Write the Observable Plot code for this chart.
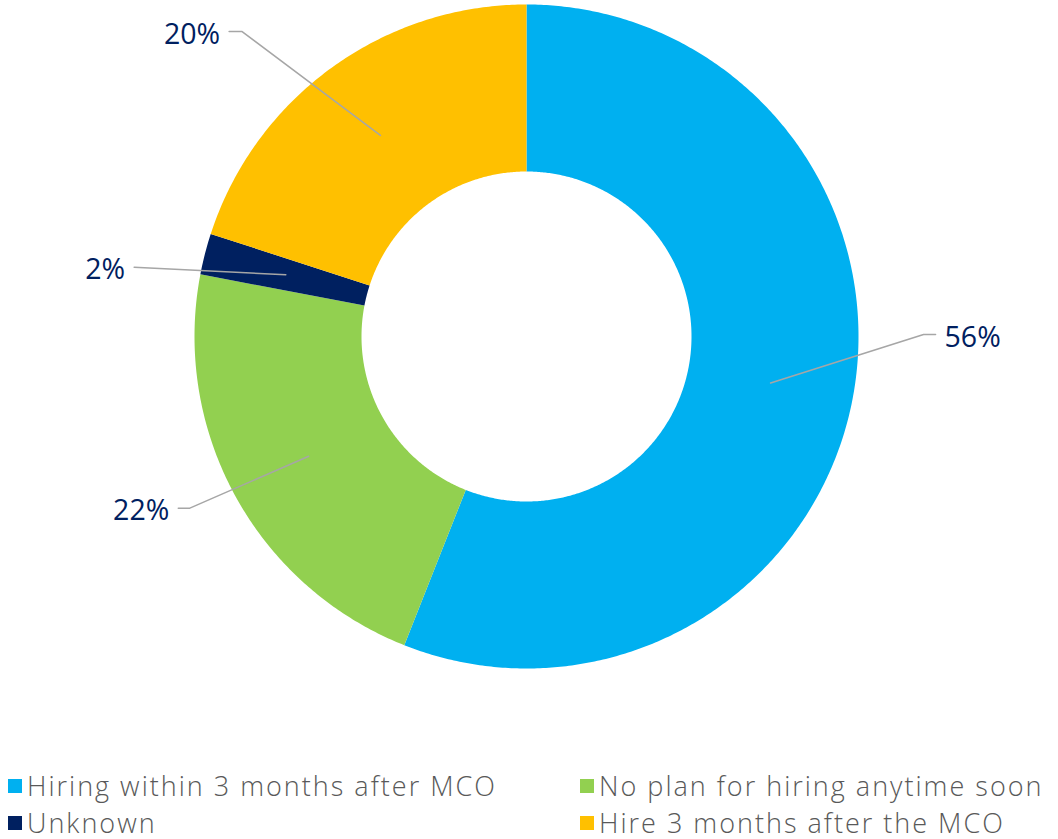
<!DOCTYPE html>
<html>
<head>
<meta charset="utf-8">
<script src="https://cdn.jsdelivr.net/npm/d3@7"></script>
<script src="https://cdn.jsdelivr.net/npm/@observablehq/plot@0.6"></script>
<style>
  body { margin: 0; background: #fff; font-family: "Open Sans", "Noto Sans", sans-serif; overflow: hidden; }
  #legend { display: grid; grid-template-columns: 572px auto; padding: 7px 0 0 8px; }
  .item { display: flex; align-items: center; height: 37px; font-size: 27px; line-height: 30px; color: #595959; font-weight: 300; white-space: nowrap; letter-spacing: 2px; }
  .sw { width: 14px; height: 14px; margin-right: 5px; flex: none; }
</style>
</head>
<body>
<div id="chart"></div>
<div id="legend"></div>
<script>
// ---- data ----
const categories = [
  "Hiring within 3 months after MCO",
  "No plan for hiring anytime soon",
  "Unknown",
  "Hire 3 months after the MCO"
];
const shares = [56, 22, 2, 20];
const valueLabels = ["56%", "22%", "2%", "20%"];
const colors = ["#00B0F0", "#92D050", "#002060", "#FFC000"];

// ---- layout ----
const W = 1058, H = 760;
const R = 332;                  // outer radius in px (unit = 1)
const cx = 526, cy = 336;       // center in px
const inner = 165 / R;
const leaderLayout = [
  {shift: -11.1, r: 1.196, h: 12},
  {shift: 1.8,   r: 1.14,  h: 11},
  {shift: -4.4,  r: 1.2,   h: 0},
  {shift: -7,    r: 1.256, h: 13}
];

const arcs = d3.pie().sort(null).value(d => d)(shares);
const pt = (a, r) => [r * Math.sin(a), r * Math.cos(a)];

// slice polygons
const slicePts = [];
arcs.forEach((a, i) => {
  const n = Math.max(4, Math.ceil((a.endAngle - a.startAngle) / (Math.PI / 360)));
  const outer = d3.range(n + 1).map(k => a.startAngle + (a.endAngle - a.startAngle) * k / n);
  outer.forEach(t => { const [x, y] = pt(t, 1); slicePts.push({cat: categories[i], x, y}); });
  outer.slice().reverse().forEach(t => { const [x, y] = pt(t, inner); slicePts.push({cat: categories[i], x, y}); });
});

// leader lines & labels
const leaderPts = [];
const labelPts = [];
arcs.forEach((a, i) => {
  const mid = (a.startAngle + a.endAngle) / 2;
  const L = leaderLayout[i];
  const [sx, sy] = pt(mid, (1 + inner) / 2);
  const [ex, ey] = pt(mid + L.shift * Math.PI / 180, L.r);
  const side = Math.sin(mid) >= 0 ? 1 : -1;
  const fx = ex + side * L.h / R;
  leaderPts.push({k: i, x: sx, y: sy}, {k: i, x: ex, y: ey}, {k: i, x: fx, y: ey});
  labelPts.push({label: valueLabels[i], x: fx + side * 9 / R, y: ey, side});
});

const chart = Plot.plot({
  width: W,
  height: H,
  margin: 0,
  x: {domain: [-cx / R, (W - cx) / R], axis: null},
  y: {domain: [-(H - cy) / R, cy / R], axis: null},
  color: {domain: categories, range: colors},
  marks: [
    Plot.line(slicePts, {x: "x", y: "y", z: "cat", fill: "cat", stroke: "none", curve: "linear"}),
    Plot.line(leaderPts, {x: "x", y: "y", z: "k", stroke: "#A6A6A6", strokeWidth: 1.5}),
    Plot.text(labelPts.filter(d => d.side > 0), {x: "x", y: "y", text: "label", textAnchor: "start", fill: "#002060", fontSize: 28.5, dy: 3, fontFamily: "Open Sans"}),
    Plot.text(labelPts.filter(d => d.side < 0), {x: "x", y: "y", text: "label", textAnchor: "end", fill: "#002060", fontSize: 28.5, dy: 3, fontFamily: "Open Sans"})
  ]
});
chart.style.display = "block";
document.getElementById("chart").appendChild(chart);

const legend = document.getElementById("legend");
categories.forEach((c, i) => {
  const it = document.createElement("div");
  it.className = "item";
  const sw = document.createElement("span");
  sw.className = "sw";
  sw.style.background = colors[i];
  it.appendChild(sw);
  it.appendChild(document.createTextNode(c));
  legend.appendChild(it);
});
</script>
</body>
</html>
